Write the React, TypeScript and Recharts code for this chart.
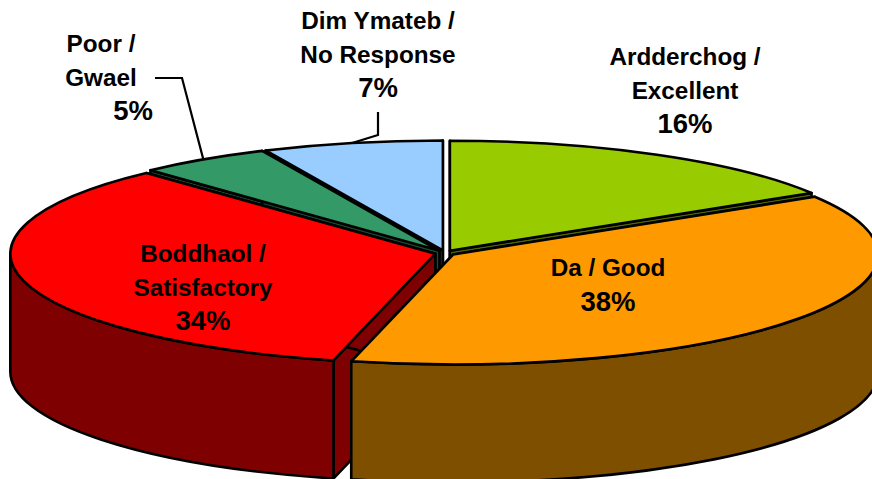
import { PieChart, Pie } from "recharts";

// slices clockwise from 12 o'clock
const names = ["Ardderchog", "Da", "Boddhaol", "Poor", "Dim Ymateb"];
const values = [16.2, 37.65, 34.25, 5.05, 6.85];
const percents = ["16%", "38%", "34%", "5%", "7%"];
const labelLines = [
  ["Ardderchog /", "Excellent"],
  ["Da / Good"],
  ["Boddhaol /", "Satisfactory"],
  ["Poor /", "Gwael"],
  ["Dim Ymateb /", "No Response"],
];
const topColors = ["#99CC00", "#FF9900", "#FF0000", "#339966", "#99CCFF"];
const wallColors = ["#4C6600", "#7F4F00", "#7F0000", "#194C33", "#4C667F"];

const data = names.map((name, i) => ({ name, value: values[i] }));

// painted back to front so nearer slices hide the walls of the ones behind
const drawOrder = ["Ardderchog", "Dim Ymateb", "Poor", "Boddhaol", "Da"];

const WIDTH = 872;
const HEIGHT = 479;
const CX = 445;
const CY = 253;
const RADIUS = 425;
const TILT = 110 / 425;
const DEPTH = 118;
const EXPLODE = 10;

const rad = (deg: number) => (deg * Math.PI) / 180;

// apex of a slice after it is pulled out along its mid angle
function apexOf(midAngle: number) {
  return {
    x: CX + EXPLODE * Math.cos(rad(midAngle)),
    y: CY - EXPLODE * TILT * Math.sin(rad(midAngle)),
  };
}

function rimPoint(midAngle: number, angle: number) {
  const a = apexOf(midAngle);
  return {
    x: a.x + RADIUS * Math.cos(rad(angle)),
    y: a.y - RADIUS * TILT * Math.sin(rad(angle)),
  };
}

function Slice(props: any) {
  const { startAngle, endAngle, midAngle, payload } = props;
  const i = names.indexOf(payload.name);
  const a = apexOf(midAngle);
  const s = rimPoint(midAngle, startAngle);
  const e = rimPoint(midAngle, endAngle);
  const rx = RADIUS;
  const ry = RADIUS * TILT;
  const edge = { stroke: "#000", strokeWidth: 2.6, strokeLinejoin: "round" as const };
  const large = startAngle - endAngle > 180 ? 1 : 0;

  const face = (p: { x: number; y: number }) =>
    `M${a.x},${a.y}L${p.x},${p.y}L${p.x},${p.y + DEPTH}L${a.x},${a.y + DEPTH}Z`;

  // only the part of the rim on the near side has a visible wall
  const wallStart = Math.min(startAngle, 0);
  const wallEnd = Math.max(endAngle, -180);
  let wall = "";
  if (wallStart > wallEnd) {
    const p = rimPoint(midAngle, wallStart);
    const q = rimPoint(midAngle, wallEnd);
    wall =
      `M${p.x},${p.y}A${rx},${ry} 0 0 1 ${q.x},${q.y}` +
      `L${q.x},${q.y + DEPTH}A${rx},${ry} 0 0 0 ${p.x},${p.y + DEPTH}Z`;
  }

  return (
    <g>
      <path d={face(s)} fill={wallColors[i]} {...edge} />
      <path d={face(e)} fill={wallColors[i]} {...edge} />
      {wall && <path d={wall} fill={wallColors[i]} {...edge} />}
      <path
        d={`M${a.x},${a.y}L${s.x},${s.y}A${rx},${ry} 0 ${large} 1 ${e.x},${e.y}Z`}
        fill={topColors[i]}
        {...edge}
      />
    </g>
  );
}

// text centres
const labelX = [685, 608, 203, 101, 378];
const percentX = [685, 608, 203, 133, 378];
const labelY = [57, 268, 254, 44, 21];
const LINE = 33.7;

function SliceLabel(props: any) {
  const { midAngle, index } = props;
  const lines = labelLines[index];
  const textStyle = {
    fontFamily: "Liberation Sans",
    fontWeight: 700,
    fontSize: 24.3,
    fill: "#000",
    stroke: "none",
  };
  let leader = null;
  if (names[index] === "Poor") {
    const p = rimPoint(midAngle, midAngle);
    leader = <polyline points={`155,78 182,78 ${p.x},${p.y}`} fill="none" stroke="#000" strokeWidth={2.2} />;
  }
  if (names[index] === "Dim Ymateb") {
    const p = rimPoint(midAngle, midAngle);
    leader = <polyline points={`378,112 378,135 ${p.x},${p.y}`} fill="none" stroke="#000" strokeWidth={2.2} />;
  }
  return (
    <g>
      {leader}
      {lines.map((t, k) => (
        <text key={t} x={labelX[index]} y={labelY[index] + k * LINE + 8} textAnchor="middle" style={textStyle}>
          {t}
        </text>
      ))}
      <text
        x={percentX[index]}
        y={labelY[index] + lines.length * LINE + 9}
        textAnchor="middle"
        style={{ ...textStyle, fontSize: 27.5 }}
      >
        {percents[index]}
      </text>
    </g>
  );
}

export default function App() {
  return (
    <div style={{ position: "absolute", left: 0, top: 0, width: WIDTH, height: HEIGHT, overflow: "hidden", background: "#fff" }}>
      <PieChart width={WIDTH} height={HEIGHT} margin={{ top: 0, right: 0, bottom: 0, left: 0 }}>
        {drawOrder.map((name, n) => (
          <Pie
            key={name}
            data={data}
            dataKey="value"
            nameKey="name"
            cx={CX}
            cy={CY}
            outerRadius={RADIUS}
            startAngle={90}
            endAngle={-270}
            isAnimationActive={false}
            shape={(p: any) => (p.payload.name === name ? <Slice {...p} /> : <g />)}
            label={n === drawOrder.length - 1 ? SliceLabel : false}
            labelLine={false}
          />
        ))}
      </PieChart>
    </div>
  );
}
